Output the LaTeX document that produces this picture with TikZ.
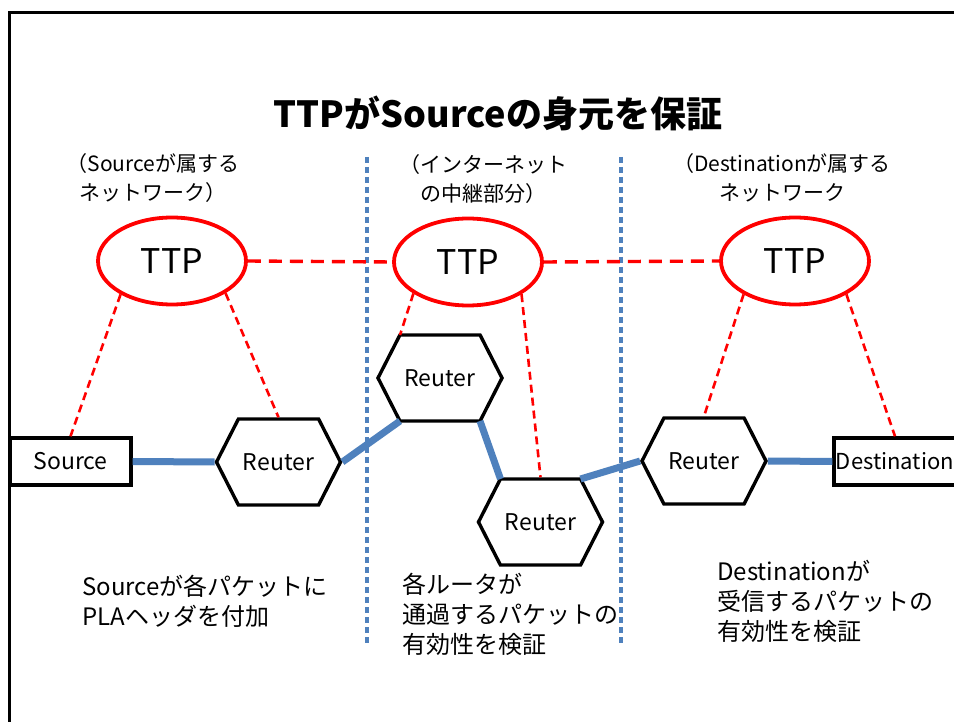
\documentclass[tikz,border=0pt]{standalone}
\usepackage{fontspec}
\setmainfont{Noto Sans CJK JP}
\usetikzlibrary{shapes.geometric,shapes.symbols,calc}
\definecolor{ttpred}{RGB}{255,0,0}
\definecolor{linkblue}{RGB}{79,129,189}
\begin{document}
\begin{tikzpicture}[x=1pt,y=-1pt,
  ttp/.style={ellipse,draw=ttpred,line width=3.8pt,minimum width=148pt,minimum height=87pt,inner sep=0pt,
    font=\fontsize{34}{40}\selectfont},
  router/.style={signal,signal to=east and west,signal pointer angle=126,draw=black,line width=3.4pt,
    minimum width=124pt,minimum height=86pt,inner sep=0pt,font=\fontsize{23}{28}\selectfont},
  hostbox/.style={rectangle,draw=black,line width=3.4pt,minimum height=47pt,inner sep=0pt,
    font=\fontsize{23}{28}\selectfont},
  link/.style={draw=linkblue,line width=7pt},
  trust/.style={draw=ttpred,line width=2.6pt,dash pattern=on 8pt off 5pt},
  peer/.style={draw=ttpred,line width=3.4pt,dash pattern=on 13pt off 8pt},
  zone/.style={draw=linkblue,line width=3.4pt,dash pattern=on 6pt off 4pt},
  heading/.style={align=center,inner sep=0pt,font=\fontsize{21}{29}\selectfont},
  note/.style={align=left,anchor=west,inner sep=0pt,font=\fontsize{24}{30}\selectfont},
]
\useasboundingbox (0,0) rectangle (954,722);
\fill[white] (0,0) rectangle (954,722);
\clip (0,0) rectangle (954,722);

% outer frame (runs past the right and bottom edges)
\draw[line width=3pt] (9,13) rectangle (980,760);

% title and section headings
\node[font=\fontsize{36}{40}\selectfont\bfseries] (title) at (498,113) {TTPがSourceの身元を保証};
\node[heading] (headA) at (153,178) {（Sourceが属する\\ネットワーク）};
\node[heading] (headB) at (483,179) {（インターネット\\の中継部分）};
\node[heading] (headC) at (782,178) {（Destinationが属する\\ネットワーク};

% section separators
\coordinate (zA1) at (367,157);
\coordinate (zA2) at (367,643);
\coordinate (zB1) at (621,157);
\coordinate (zB2) at (621,643);
\draw[zone] (zA1) -- (zA2);
\draw[zone] (zB1) -- (zB2);

% trusted third parties
\node[ttp] (ttpA) at (172,261) {TTP};
\node[ttp] (ttpB) at (468,262) {TTP};
\node[ttp] (ttpC) at (795,261) {TTP};

% hosts and routers
\node[hostbox,minimum width=121pt] (src) at (70.5,461.5) {Source};
\node[hostbox,minimum width=122pt,font=\fontsize{22}{28}\selectfont] (dst) at (895,461.5) {Destination};
\node[router] (r1) at (278.5,462) {Reuter};
\node[router] (r2) at (440,378) {Reuter};
\node[router] (r3) at (540.5,522) {Reuter};
\node[router] (r4) at (704,461) {Reuter};

% TTP to TTP
\draw[peer] (ttpA.east) -- (ttpB.west);
\draw[peer] (ttpB.east) -- (ttpC.west);

% TTP to managed devices
\draw[trust] (ttpA.213) -- (src.north);
\draw[trust] (ttpA.329) -- (r1.north);
\draw[trust] (ttpB.210) -- ($(r2.center)+(-40,-43)$);
\draw[trust] (ttpB.329) -- (r3.north);
\draw[trust] (ttpC.213) -- (r4.north);
\draw[trust] (ttpC.327) -- (dst.north);

% packet path
\draw[link] (src.east) -- (r1.west);
\draw[link] (r1.east) -- ($(r2.center)+(-40,43)$);
\draw[link] ($(r2.center)+(40,43)$) -- ($(r3.center)+(-40,-43)$);
\draw[link] ($(r3.center)+(40,-43)$) -- (r4.west);
\draw[link] (r4.east) -- (dst.west);

% explanations
\node[note] (noteA) at (82,601.5) {Sourceが各パケットに\\PLAヘッダを付加};
\node[note] (noteB) at (402,614) {各ルータが\\通過するパケットの\\有効性を検証};
\node[note] (noteC) at (717,601) {Destinationが\\受信するパケットの\\有効性を検証};
\end{tikzpicture}
\end{document}
